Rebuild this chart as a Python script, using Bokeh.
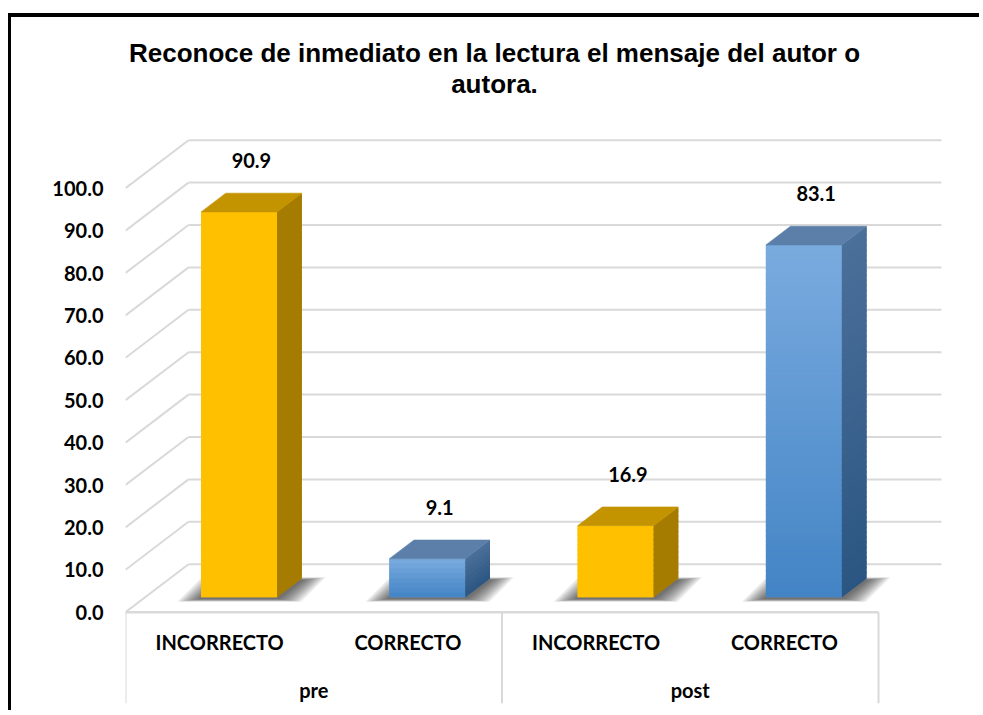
from bokeh.plotting import figure
from bokeh.models import Range1d, FixedTicker, NumeralTickFormatter, ColumnDataSource
from bokeh.core.properties import value
from bokeh.embed import file_html
from bokeh.resources import INLINE

# ---------------- data ----------------
title_lines = ["Reconoce de inmediato en la lectura el mensaje del autor o", "autora."]
groups = ["pre", "pre", "post", "post"]
categories = ["INCORRECTO", "CORRECTO", "INCORRECTO", "CORRECTO"]
values = [90.9, 9.1, 16.9, 83.1]
y_ticks = [0, 10, 20, 30, 40, 50, 60, 70, 80, 90, 100]

# ---------------- styles ----------------
FACES = {
    "INCORRECTO": dict(front_top="#FFC000", front_bot="#FFC000", top="#C49300",
                       side_top="#A67C00", side_bot="#A67C00"),
    "CORRECTO": dict(front_top="#7AABDF", front_bot="#4384C5", top="#5B7FA8",
                     side_top="#4B709A", side_bot="#2B5682"),
}
GRID = "#D9D9D9"
FONT = "Lato"

# ---------------- geometry (page pixels) ----------------
PAGE_X, PAGE_Y = 11, 17          # canvas origin on the page (after CSS margin + border)
W, H = 971, 697
FR_L, FR_T, FR_R, FR_B = 125, 25, 950, 703
FLOOR_Y = 611.7
PX_SLOT = (878 - 125) / len(categories)
PX_UNIT = 4.24
DEPTH_PX = (63, 48)
BAR_W_PX = 76
D0, D1 = 0.31, 0.70
BAND_PX = 5

DX = DEPTH_PX[0] / PX_SLOT
DY = DEPTH_PX[1] / PX_UNIT
BW = BAR_W_PX / PX_SLOT


def px_x(px):
    return (px - FR_L) / PX_SLOT


def px_y(py):
    return (FLOOR_Y - py) / PX_UNIT


def hex2rgb(h):
    h = h.lstrip("#")
    return tuple(int(h[i:i + 2], 16) for i in (0, 2, 4))


def mix(c1, c2, t):
    a, b = hex2rgb(c1), hex2rgb(c2)
    return "#%02x%02x%02x" % tuple(round(a[i] + (b[i] - a[i]) * t) for i in range(3))


p = figure(width=W, height=H, output_backend="svg", toolbar_location=None,
           x_range=Range1d(0, px_x(FR_R)), y_range=Range1d(px_y(FR_B), px_y(FR_T)),
           x_axis_location=None,
           min_border_left=FR_L - PAGE_X, min_border_right=PAGE_X + W - FR_R,
           min_border_top=FR_T - PAGE_Y, min_border_bottom=PAGE_Y + H - FR_B)
p.outline_line_color = None
p.grid.visible = False
p.background_fill_color = "white"
p.border_fill_color = "white"
p.styles = {"margin-left": "8px", "margin-top": "13px",
            "border-left": "3px solid black", "border-top": "4px solid black"}

ax = p.yaxis[0]
ax.ticker = FixedTicker(ticks=y_ticks)
ax.formatter = NumeralTickFormatter(format="0.0")
ax.axis_line_color = None
ax.major_tick_line_color = None
ax.minor_tick_line_color = None
ax.major_tick_out = 0
ax.major_tick_in = 0
ax.major_label_standoff = 22
ax.major_label_text_font = FONT
ax.major_label_text_font_style = "bold"
ax.major_label_text_font_size = "20px"
ax.major_label_text_color = "black"

n = len(categories)

# ---------------- walls ----------------
back = dict(x0=[DX] * len(y_ticks), y0=[v + DY for v in y_ticks],
            x1=[n + DX] * len(y_ticks), y1=[v + DY for v in y_ticks])
p.segment(source=ColumnDataSource(back), x0="x0", y0="y0", x1="x1", y1="y1",
          line_color=GRID, line_width=2)
diag = dict(x0=[0] * len(y_ticks), y0=list(y_ticks),
            x1=[DX] * len(y_ticks), y1=[v + DY for v in y_ticks])
p.segment(source=ColumnDataSource(diag), x0="x0", y0="y0", x1="x1", y1="y1",
          line_color=GRID, line_width=2)
p.segment(x0=[0], y0=[0], x1=[n], y1=[0], line_color=GRID, line_width=2.5)

# category separators below the floor
bounds = [0]
for i in range(1, n):
    if groups[i] != groups[i - 1]:
        bounds.append(i)
bounds.append(n)
p.segment(x0=bounds, y0=[0] * len(bounds), x1=bounds, y1=[px_y(FR_B)] * len(bounds),
          line_color=GRID, line_width=2)

# ---------------- soft shadows on the floor ----------------
for i, v in enumerate(values):
    c = i + 0.5
    xl, xr = c - BW / 2, c + BW / 2
    sy = -1.5 / PX_UNIT
    for k in range(12):
        e_px = 24 - 2 * k
        ex = e_px / PX_SLOT
        ey = 0.12 * e_px / PX_UNIT
        xs = [xl - ex + D0 * DX, xr + ex + D0 * DX, xr + ex + D1 * DX, xl - ex + D1 * DX]
        ys = [D0 * DY - ey + sy, D0 * DY - ey + sy, D1 * DY + ey + sy, D1 * DY + ey + sy]
        p.patch(xs, ys, fill_color="#202020", fill_alpha=0.075, line_color=None)

# ---------------- bars ----------------
for i, (cat, v) in enumerate(zip(categories, values)):
    f = FACES[cat]
    c = i + 0.5
    xl, xr = c - BW / 2, c + BW / 2
    nb = max(1, int(round(v * PX_UNIT / BAND_PX)))
    hb = v / nb
    # underlays (avoid seams)
    p.quad(left=[xl + D0 * DX], right=[xr + D0 * DX], bottom=[D0 * DY], top=[v + D0 * DY],
           fill_color=mix(f["front_bot"], f["front_top"], 0.5), line_color=None)
    p.patch([xr + D0 * DX, xr + D1 * DX, xr + D1 * DX, xr + D0 * DX],
            [D0 * DY, D1 * DY, v + D1 * DY, v + D0 * DY],
            fill_color=mix(f["side_bot"], f["side_top"], 0.5), line_color=None)
    lefts, rights, bots, tops, cols = [], [], [], [], []
    sxs, sys, scols = [], [], []
    for k in range(nb):
        y0 = hb * k
        y1 = min(v, y0 + 1.5 * hb)
        t = (k + 0.5) / nb
        lefts.append(xl + D0 * DX)
        rights.append(xr + D0 * DX)
        bots.append(y0 + D0 * DY)
        tops.append(y1 + D0 * DY)
        cols.append(mix(f["front_bot"], f["front_top"], t))
        sxs.append([xr + D0 * DX, xr + D1 * DX, xr + D1 * DX, xr + D0 * DX])
        sys.append([y0 + D0 * DY, y0 + D1 * DY, y1 + D1 * DY, y1 + D0 * DY])
        scols.append(mix(f["side_bot"], f["side_top"], t))
    p.quad(left=lefts, right=rights, bottom=bots, top=tops, fill_color=cols, line_color=None)
    p.patches(sxs, sys, fill_color=scols, line_color=None)
    p.patch([xl + D0 * DX, xr + D0 * DX, xr + D1 * DX, xl + D1 * DX],
            [v + D0 * DY, v + D0 * DY, v + D1 * DY, v + D1 * DY],
            fill_color=f["top"], line_color=f["top"], line_width=0.6)

# ---------------- value labels ----------------
DM = 0.5 * (D0 + D1)
lab = ColumnDataSource(dict(
    x=[i + 0.5 + DM * DX for i in range(n)],
    y=[v + DM * DY + 42 / PX_UNIT for v in values],
    t=["%.1f" % v for v in values]))
p.text(x="x", y="y", text="t", source=lab, text_font=value(FONT), text_font_style="bold",
       text_font_size="20px", text_color="black", text_align="center", text_baseline="middle")

# ---------------- category labels ----------------
p.text(x=[i + 0.5 for i in range(n)], y=[px_y(641.7)] * n, text=categories,
       text_font=value(FONT), text_font_style="bold", text_font_size="20px",
       text_color="black", text_align="center", text_baseline="middle")
gnames, gcent = [], []
for b0, b1 in zip(bounds[:-1], bounds[1:]):
    gnames.append(groups[b0])
    gcent.append((b0 + b1) / 2)
p.text(x=gcent, y=[px_y(689)] * len(gcent), text=gnames,
       text_font=value(FONT), text_font_style="bold", text_font_size="20px",
       text_color="black", text_align="center", text_baseline="middle")

# ---------------- title ----------------
p.text(x=[px_x(494)] * 2, y=[px_y(52), px_y(83)], text=title_lines,
       text_font=value("Liberation Sans"), text_font_style="bold", text_font_size="26px",
       text_color="black", text_align="center", text_baseline="middle")

open("out.html", "w").write(file_html(p, INLINE))
